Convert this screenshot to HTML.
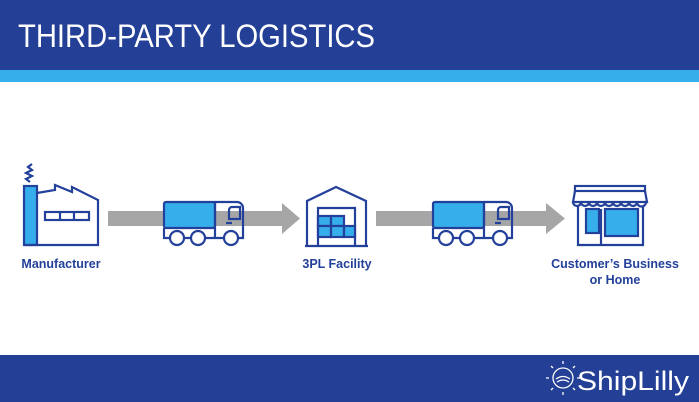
<!DOCTYPE html>
<html><head><meta charset="utf-8"><style>
html,body{margin:0;padding:0;background:#fff;}
svg{display:block;}
</style></head><body>
<svg width="699" height="402" viewBox="0 0 699 402" xmlns="http://www.w3.org/2000/svg" font-family="Liberation Sans, sans-serif">
<rect x="0" y="0" width="699" height="70" fill="#233f96"/>
<rect x="0" y="70" width="699" height="12" fill="#36aeec"/>
<text x="18" y="47" font-size="32" fill="#fff" textLength="357" lengthAdjust="spacingAndGlyphs">THIRD-PARTY LOGISTICS</text>
<rect x="0" y="355" width="699" height="47" fill="#233f96"/>

<rect x="108" y="211" width="176" height="15" fill="#a6a6a6"/>
<polygon points="282,203 300,218.5 282,234" fill="#a6a6a6"/>
<rect x="376" y="211" width="172" height="15" fill="#a6a6a6"/>
<polygon points="546,203 565,218.5 546,234" fill="#a6a6a6"/>

<g stroke="#23409a" stroke-width="2.2" fill="none">
<path d="M30,182 l-4,-3 l6,-3 l-6,-3 l6,-3 l-4,-3 l4,-3"/>
<rect x="24" y="186" width="13" height="59" fill="#36aeec"/>
<path d="M37,193 L55,190 V185 L72,192 V187 L98,200 V245 H24"/>
<rect x="45" y="212" width="44" height="8"/>
<line x1="60" y1="212" x2="60" y2="220"/><line x1="74" y1="212" x2="74" y2="220"/>

<rect x="164" y="202" width="51" height="26" fill="#36aeec" rx="2"/>
<path d="M164,228 v10 h51 v-36 h22 a6,6 0 0 1 6,6 v30 h-28"/>
<path d="M229,210 a3,3 0 0 1 3,-3 h8 v12 h-11 z"/>
<line x1="226" y1="223" x2="232" y2="223"/>
<circle cx="177" cy="238" r="7" fill="#fff"/><circle cx="198" cy="238" r="7" fill="#fff"/><circle cx="231" cy="238" r="7" fill="#fff"/>

<path d="M307,245 V201 L336,187 L366,201 V245"/>
<path d="M318,245 V208 H355 V245"/>
<line x1="305" y1="246" x2="368" y2="246"/>
<rect x="318" y="216" width="13" height="10" fill="#36aeec"/>
<rect x="331" y="216" width="13" height="10" fill="#36aeec"/>
<rect x="318" y="226" width="13" height="11" fill="#36aeec"/>
<rect x="331" y="226" width="13" height="11" fill="#36aeec"/>
<rect x="344" y="226" width="11" height="11" fill="#36aeec"/>

<rect x="433" y="202" width="51" height="26" fill="#36aeec" rx="2"/>
<path d="M433,228 v10 h51 v-36 h22 a6,6 0 0 1 6,6 v30 h-28"/>
<path d="M498,210 a3,3 0 0 1 3,-3 h8 v12 h-11 z"/>
<line x1="495" y1="223" x2="501" y2="223"/>
<circle cx="446" cy="238" r="7" fill="#fff"/><circle cx="467" cy="238" r="7" fill="#fff"/><circle cx="500" cy="238" r="7" fill="#fff"/>

<rect x="575" y="186" width="70" height="5"/>
<path d="M575,191 L573,202 H647 L645,191"/>
<path d="M573,202 a4,4 0 0 0 8,0 a4,4 0 0 0 8,0 a4,4 0 0 0 8,0 a4,4 0 0 0 8,0 a4,4 0 0 0 8,0 a4,4 0 0 0 8,0 a4,4 0 0 0 8,0 a4,4 0 0 0 8,0 a4,4 0 0 0 9,0"/>
<path d="M578,206 V245 H643 V206"/>
<rect x="586" y="209" width="13" height="24" fill="#36aeec"/>
<line x1="601" y1="209" x2="601" y2="245"/>
<rect x="605" y="209" width="33" height="27" fill="#36aeec"/>
</g>

<g fill="#23409a" font-weight="bold" font-size="12.5" text-anchor="middle">
<text x="61" y="268">Manufacturer</text>
<text x="337" y="268">3PL Facility</text>
<text x="615" y="268">Customer’s Business</text>
<text x="615" y="284">or Home</text>
</g>

<g stroke="#fff" stroke-width="1.3" fill="none">
<circle cx="563" cy="378" r="10"/>
<path d="M556,379 q7,-5 14,0 M557,382 q6,-4 12,0"/>
<path d="M563,364 v-3 M563,392 v3 M549,378 h-3 M577,378 h3 M553,368 l-2,-2 M573,368 l2,-2 M553,388 l-2,2 M573,388 l2,2"/>
</g>
<text x="577" y="390" font-size="27" fill="#fff" textLength="112" lengthAdjust="spacingAndGlyphs">ShipLilly</text>
</svg>
</body></html>
